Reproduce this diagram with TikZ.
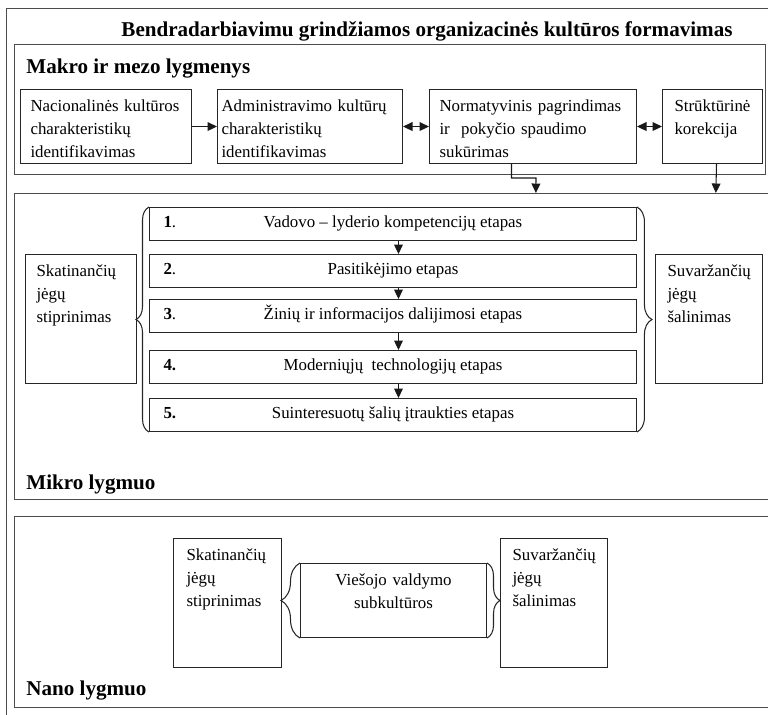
\documentclass[tikz,border=0pt]{standalone}
\usepackage{fontspec}
\setmainfont{Liberation Serif}
\usepackage{tikz}
\usetikzlibrary{arrows.meta,positioning,decorations.pathreplacing}
\newcommand{\bodyfnt}{\fontsize{9.6}{13}\selectfont\hyphenpenalty=10000\exhyphenpenalty=10000}
\newcommand{\headfnt}{\fontsize{12}{14}\selectfont\bfseries}
\newcommand{\etap}[2]{\makebox[9.18cm]{\rlap{#1}\hfill #2\hfill}}
\tikzset{>={Triangle[length=5.4pt,width=5pt]}}
\tikzset{
	frame/.style={draw=black!70, line width=0.8pt, anchor=north west, inner sep=0pt},
	blk/.style={draw=black!85, line width=0.6pt, anchor=north west, align=left, inner ysep=0pt, inner xsep=0.2cm, text height=0.44cm, font=\bodyfnt},
	stage/.style={draw=black!85, line width=0.6pt, anchor=north west, inner sep=0pt, minimum width=9.74cm, minimum height=0.66cm, text height=7pt, text depth=2.5pt, font=\bodyfnt},
	hd/.style={anchor=base west, inner sep=0pt, font=\headfnt},
	brc/.style={decorate, decoration={brace, amplitude=#1}, line width=0.6pt, draw=black!85},
	arr/.style={->, line width=0.6pt, draw=black!90},
}

\begin{document}
\begin{tikzpicture}[x=0.02cm, y=-0.02cm]
					\path[use as bounding box] (0,0) rectangle (768,714);
					\clip (0,0) rectangle (768,714);
					%Frames
					\node[frame, minimum width=15.48cm, minimum height=14.44cm] (F) at (6,8) {};
					\node[frame, minimum width=15.02cm, minimum height=2.6cm] (makro) at (14,44) {};
					\node[frame, minimum width=15.32cm, minimum height=6.12cm] (mikro) at (14,193) {};
					\node[frame, minimum width=15.32cm, minimum height=3.82cm] (nano) at (14,516) {};
					
					\node[hd, anchor=base] (T) at (427,36) {Bendradarbiavimu grindžiamos organizacinės kultūros formavimas};
					\node[hd] (MK) at (26,73) {Makro ir mezo lygmenys};
					
					%Makro
					\node[blk, text width=3.02cm, text depth=1.04cm] (nac) at (20,89) {Nacionalinės kultūros\\ charakteristikų\\ identifikavimas};
					\node[blk, inner xsep=0.08cm, text width=3.54cm, text depth=1.04cm] (adm) at (217,89) {Administravimo kultūrų\\ charakteristikų\\ identifikavimas};
					\node[blk, text width=3.74cm, text depth=1.04cm] (norm) at (429,89) {Normatyvinis pagrindimas\\ ir\ \ pokyčio spaudimo\\ sukūrimas};
					\node[blk, inner xsep=0.24cm, text width=1.52cm, text depth=1.04cm] (strk) at (662,89) {Strūktūrinė\\ korekcija};
					
					\draw[arr] (nac) -- (adm);
					\draw[arr, <->] (adm) -- (norm);
					\draw[arr, <->] (norm) -- (strk);
					\draw[arr] ([xshift=-0.43cm]norm.south) |- (536,178) -- ([xshift=10.44cm]mikro.north west);
					\draw[arr] ([xshift=0.08cm]strk.south) -- ([xshift=14.04cm]mikro.north west);
					
					%Mikro
					\node[blk, inner xsep=0.22cm, text width=1.78cm, text depth=2.14cm] (sk1) at (25,254) {Skatinančių\\ jėgų\\ stiprinimas};
					\node[stage] (e1) at (149,207) {\etap{\textbf{1}.}{Vadovo – lyderio kompetencijų etapas}};
					\node[stage] (e2) at (149,254) {\etap{\textbf{2}.}{Pasitikėjimo etapas}};
					\node[stage] (e3) at (149,299) {\etap{\textbf{3}.}{Žinių ir informacijos dalijimosi etapas}};
					\node[stage] (e4) at (149,350) {\etap{\textbf{4.}}{Moderniųjų\ \ technologijų etapas}};
					\node[stage] (e5) at (149,398) {\etap{\textbf{5.}}{Suinteresuotų šalių įtraukties etapas}};
					\node[blk, inner xsep=0.24cm, text width=1.66cm, text depth=2.14cm] (sv1) at (655,254) {Suvaržančių\\ jėgų\\ šalinimas};
					
					\draw[arr] ([xshift=0.11cm]e1.south) -- ([xshift=0.11cm]e2.north);
					\draw[arr] ([xshift=0.11cm]e2.south) -- ([xshift=0.11cm]e3.north);
					\draw[arr] ([xshift=0.11cm]e3.south) -- ([xshift=0.11cm]e4.north);
					\draw[arr] ([xshift=0.11cm]e4.south) -- ([xshift=0.11cm]e5.north);
					\draw[brc=0.26cm] (e5.south west) -- (e1.north west);
					\draw[brc=0.3cm] (e1.north east) -- (e5.south east);
					
					\node[hd] (MI) at (26,489) {Mikro lygmuo};
					
					%Nano
					\node[blk, inner xsep=0.26cm, text width=1.64cm, text depth=2.14cm] (sk2) at (173,538) {Skatinančių\\ jėgų\\ stiprinimas};
					\node[blk, align=center, inner xsep=0.1cm, text width=3.52cm, text depth=1.04cm] (sub) at (300,563) {Viešojo valdymo\\ subkultūros};
					\node[blk, inner xsep=0.24cm, text width=1.66cm, text depth=2.14cm] (sv2) at (500,538) {Suvaržančių\\ jėgų\\ šalinimas};
					\draw[brc=0.38cm] (sub.south west) -- (sub.north west);
					\draw[brc=0.26cm] (sub.north east) -- (sub.south east);
					
					\node[hd] (NA) at (26,695) {Nano lygmuo};
\end{tikzpicture}
\end{document}
